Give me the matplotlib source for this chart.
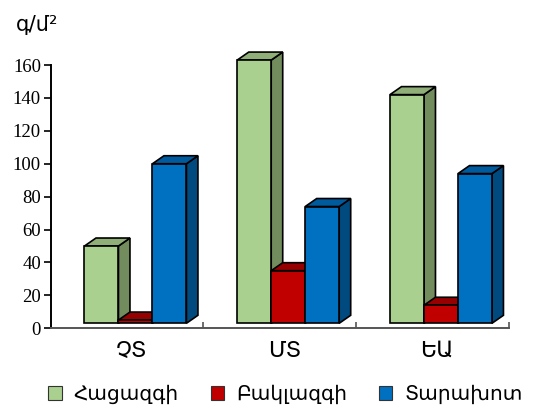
import matplotlib
matplotlib.use("Agg")
import matplotlib.pyplot as plt
from matplotlib.patches import Polygon, Patch

# Data
categories = ["ՉՏ", "ՄՏ", "ԵԱ"]
series_names = ["Հացազգի", "Բակլազգի", "Տարախոտ"]
grass = [50, 163, 142]
legume = [5, 35, 14]
forb = [100, 74, 94]
y_ticks = [0, 20, 40, 60, 80, 100, 120, 140, 160]
unit_label = "գ/մ²"

# Face colours: front, side, top
palette = [
    ("#A9D08E", "#728C5E", "#8FAE78"),
    ("#C00000", "#7A0000", "#960000"),
    ("#0070C0", "#004A80", "#005A9E"),
]

fig = plt.figure(figsize=(5.34, 4.13), dpi=100)
ax = fig.add_axes([0.0949, 0.2051, 0.8582, 0.6375])
ax.set_xlim(0, 3)
ax.set_ylim(0, 160)

# Depth of the pseudo-3D boxes, given in pixels and turned into data units
p0, p1 = ax.transData.transform([[0, 0], [1, 1]])
px_x = p1[0] - p0[0]
px_y = p1[1] - p0[1]
depth_x = 11.5 / px_x
depth_y = 8.0 / px_y
floor = 5.0 / px_y

bar_w = 0.2225
group_shift = 0.055


def box(x0, value, colors):
    front, side, top = colors
    x1 = x0 + bar_w
    kw = dict(edgecolor="black", linewidth=1.2, clip_on=False, joinstyle="miter")
    ax.add_patch(Polygon([(x1, floor), (x1 + depth_x, floor + depth_y),
                          (x1 + depth_x, value + depth_y), (x1, value)],
                         facecolor=side, **kw))
    ax.add_patch(Polygon([(x0, value), (x0 + depth_x, value + depth_y),
                          (x1 + depth_x, value + depth_y), (x1, value)],
                         facecolor=top, **kw))
    ax.add_patch(Polygon([(x0, floor), (x0, value), (x1, value), (x1, floor)],
                         facecolor=front, **kw))


series = [grass, legume, forb]
for ci in range(len(categories)):
    center = ci + 0.5 + group_shift
    for si, vals in enumerate(series):
        x0 = center - 1.5 * bar_w + si * bar_w
        box(x0, vals[ci], palette[si])

# Axes styling
for s in ("top", "right"):
    ax.spines[s].set_visible(False)
ax.spines["left"].set_color("black")
ax.spines["left"].set_linewidth(1.4)
ax.spines["bottom"].set_color("#555555")
ax.spines["bottom"].set_linewidth(1.4)

ax.set_yticks(y_ticks)
ax.set_yticklabels([str(t) for t in y_ticks], family="Liberation Serif", fontsize=13.5)
ax.tick_params(axis="y", direction="out", length=5, width=1.2, pad=2, colors="black")

ax.set_xticks([i + 0.5 + 0.03 for i in range(len(categories))])
ax.set_xticklabels(categories, family="DejaVu Sans", fontsize=16)
ax.tick_params(axis="x", length=0, pad=9)
ax.set_xticks([1, 2, 3], minor=True)
ax.tick_params(axis="x", which="minor", direction="in", length=4.5, width=1.2, color="#555555")

fig.text(0.030, 0.925, unit_label, family="DejaVu Sans", fontsize=15, ha="left", va="baseline")

handles = [Patch(facecolor=c[0], edgecolor="#333333", linewidth=0.8) for c in palette]
fig.legend(handles, series_names, loc="center", bbox_to_anchor=(0.535, 0.045), ncol=3,
           frameon=False, prop={"family": "DejaVu Sans", "size": 14.5},
           handlelength=0.65, handleheight=0.65, handletextpad=0.6, columnspacing=1.6)

fig.savefig("out.png", dpi=100)
